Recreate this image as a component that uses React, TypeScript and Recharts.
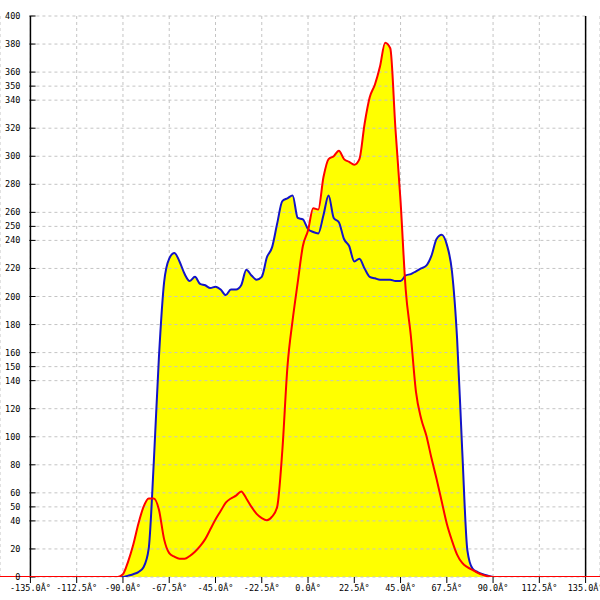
import {
  Area,
  CartesianGrid,
  ComposedChart,
  Line,
  ReferenceLine,
  XAxis,
  YAxis,
} from "recharts";

// angle samples (degrees), shared by both series
const angles = [
  -149.8, -92.5, -90, -87.5, -85, -82.5, -80, -77.5, -75, -72.5, -70, -67.5,
  -65, -62.5, -60, -57.5, -55, -52.5, -50, -47.5, -45, -42.5, -40, -37.5, -35,
  -32.5, -30, -27.5, -25, -22.5, -20, -17.5, -15, -12.5, -10, -7.5, -5, -2.5,
  0, 2.5, 5, 7.5, 10, 12.5, 15, 17.5, 20, 22.5, 25, 27.5, 30, 32.5, 35, 37.5,
  40, 42.5, 45, 47.5, 50, 52.5, 55, 57.5, 60, 62.5, 65, 67.5, 70, 72.5, 75,
  77.5, 80, 82.5, 85, 87.5, 90, 92.5, 142,
];

const blueValues = [
  0, 0, 0, 1, 2, 3.5, 7, 20, 82, 157, 210, 227, 231, 225, 216, 211, 214, 209,
  208, 206, 207, 205, 201, 205, 205, 208, 219, 215, 212, 214, 228, 235, 252,
  268, 270, 272, 256, 255, 248, 246, 245, 258, 272, 256, 253, 241, 236, 225,
  227, 220, 214, 213, 212, 212, 212, 211, 211, 215, 216, 218, 220, 222, 229,
  241, 244, 237, 218, 170, 90, 19, 6, 3.5, 2, 1, 0, 0, 0,
];

const redValues = [
  0, 0, 2, 11, 23, 38, 50, 56, 56, 48, 27, 17, 14.5, 13, 13, 15, 18, 22, 27,
  34, 41, 47, 53, 56, 58, 61, 56, 50, 45, 42, 40.5, 43, 50, 90, 150, 183, 210,
  236, 247, 263, 262, 285, 298, 300, 304, 298, 296, 294, 298, 323, 342, 351,
  364, 381, 377, 320, 268, 205, 172, 132, 113, 101, 85, 70, 54, 38, 26, 16,
  10, 7, 5, 3, 1.5, 0.5, 0, 0, 0,
];

const xTicks = [
  -135, -112.5, -90, -67.5, -45, -22.5, 0, 22.5, 45, 67.5, 90, 112.5, 135,
];

const yTicks = [
  0, 20, 40, 50, 60, 80, 100, 120, 140, 150, 160, 180, 200, 220, 240, 250, 260,
  280, 300, 320, 340, 350, 360, 380, 400,
];

const data = angles.map((angle, i) => ({
  angle,
  blue: blueValues[i],
  red: redValues[i],
}));

const FONT = "'DejaVu Sans Mono', monospace";
const formatAngle = (v: number) => `${v.toFixed(1)}Â°`;

export default function App() {
  return (
    <div style={{ position: "absolute", left: 0, top: 0, width: 600, height: 600, background: "#fff" }}>
      <ComposedChart
        width={600}
        height={600}
        data={data}
        margin={{ top: 16, right: 0, bottom: 0, left: 0 }}
      >
        <CartesianGrid
          horizontal={false}
          stroke="#c4c4c4"
          strokeDasharray="3 3"
        />
        <XAxis
          dataKey="angle"
          type="number"
          domain={[-149.8, 142]}
          allowDataOverflow
          ticks={xTicks}
          interval={0}
          tickFormatter={formatAngle}
          axisLine={false}
          tickLine={{ stroke: "#000" }}
          tickSize={6}
          tickMargin={2}
          height={23}
          tick={{ fontFamily: FONT, fontSize: 8.5, fill: "#000" }}
        />
        <YAxis hide type="number" domain={[0, 400]} allowDataOverflow />
        {yTicks.map((t) => (
          <ReferenceLine
            key={`g${t}`}
            segment={[
              { x: -135, y: t },
              { x: 135, y: t },
            ]}
            stroke="#c4c4c4"
            strokeDasharray="3 3"
            label={{
              value: String(t),
              position: "left",
              offset: 10,
              fontFamily: FONT,
              fontSize: 8.5,
              fill: "#000",
            }}
          />
        ))}
        <Area
          dataKey="blue"
          type="monotone"
          stroke="none"
          fill="#ffff00"
          fillOpacity={1}
          isAnimationActive={false}
        />
        <Area
          dataKey="red"
          type="monotone"
          stroke="none"
          fill="#ffff00"
          fillOpacity={1}
          isAnimationActive={false}
        />
        {yTicks.map((t) => (
          <ReferenceLine
            key={`t${t}`}
            segment={[
              { x: -135.5, y: t },
              { x: -132.5, y: t },
            ]}
            stroke="#000"
          />
        ))}
        <ReferenceLine x={-135} stroke="#000" strokeWidth={1.5} />
        <ReferenceLine x={135} stroke="#000" strokeWidth={1.5} />
        <Line
          dataKey="blue"
          type="monotone"
          stroke="#1414c8"
          strokeWidth={2}
          dot={false}
          isAnimationActive={false}
        />
        <Line
          dataKey="red"
          type="monotone"
          stroke="#ff0000"
          strokeWidth={2}
          dot={false}
          isAnimationActive={false}
        />
      </ComposedChart>
    </div>
  );
}
